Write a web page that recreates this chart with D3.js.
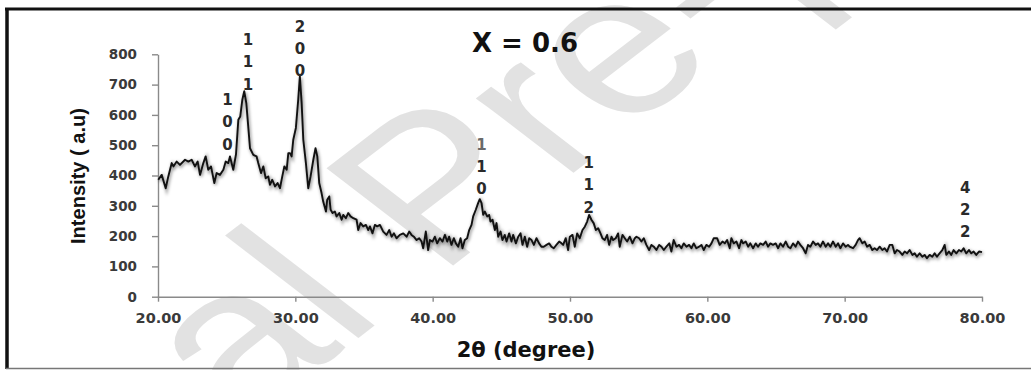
<!DOCTYPE html>
<html>
<head>
<meta charset="utf-8">
<script src="https://cdn.jsdelivr.net/npm/d3@7"></script>
<style>
  html, body { margin: 0; padding: 0; background: #fff; }
  svg { display: block; }
</style>
</head>
<body>
<svg id="chart" width="1031" height="370"></svg>
<script>
// XRD pattern, sample X = 0.6
const twoTheta = [
  20.02, 20.27, 20.56, 20.75, 21.00, 21.12, 21.36, 21.60, 21.97, 22.21,
  22.45, 22.69, 22.89, 23.06, 23.30, 23.47, 23.66, 23.86, 24.10, 24.27,
  24.51, 24.76, 24.93, 25.12, 25.24, 25.48, 25.68, 25.85, 25.99, 26.14,
  26.28, 26.43, 26.57, 26.70, 26.94, 27.18, 27.30, 27.50, 27.67, 27.84,
  28.03, 28.15, 28.32, 28.52, 28.71, 28.88, 29.05, 29.20, 29.37, 29.49,
  29.61, 29.73, 29.85, 30.04, 30.21, 30.33, 30.46, 30.58, 30.77, 30.94,
  31.11, 31.31, 31.47, 31.60, 31.74, 31.91, 32.03, 32.23, 32.32, 32.47,
  32.57, 32.71, 32.88, 33.00, 33.20, 33.37, 33.49, 33.68, 33.85, 34.02,
  34.22, 34.46, 34.58, 34.75, 34.94, 35.14, 35.31, 35.43, 35.62, 35.79,
  35.96, 36.16, 36.40, 36.64, 36.84, 37.01, 37.18, 37.37, 37.61, 37.86,
  38.10, 38.29, 38.46, 38.63, 38.83, 39.02, 39.19, 39.31, 39.50, 39.67,
  39.80, 39.99, 40.16, 40.33, 40.52, 40.72, 40.89, 41.06, 41.20, 41.37,
  41.54, 41.69, 41.86, 42.03, 42.17, 42.34, 42.51, 42.66, 42.83, 42.95,
  43.14, 43.31, 43.43, 43.56, 43.68, 43.80, 43.97, 44.11, 44.21, 44.36,
  44.53, 44.65, 44.77, 44.94, 45.08, 45.25, 45.38, 45.57, 45.74, 45.86,
  46.06, 46.23, 46.40, 46.54, 46.71, 46.88, 47.03, 47.20, 47.37, 47.56,
  47.75, 47.92, 48.09, 48.29, 48.48, 48.65, 48.82, 49.01, 49.21, 49.38,
  49.50, 49.69, 49.86, 49.99, 50.18, 50.35, 50.52, 50.71, 50.91, 51.08,
  51.25, 51.39, 51.56, 51.73, 51.88, 52.05, 52.22, 52.36, 52.53, 52.70,
  52.85, 53.02, 53.14, 53.33, 53.50, 53.62, 53.82, 53.99, 54.16, 54.35,
  54.55, 54.72, 54.84, 55.03, 55.20, 55.37, 55.56, 55.76, 55.93, 56.10,
  56.29, 56.49, 56.66, 56.83, 57.02, 57.23, 57.38, 57.55, 57.75, 57.94,
  58.11, 58.28, 58.48, 58.67, 58.84, 59.01, 59.20, 59.40, 59.57, 59.74,
  59.93, 60.13, 60.30, 60.47, 60.71, 60.90, 61.10, 61.27, 61.44, 61.63,
  61.75, 61.92, 62.12, 62.31, 62.48, 62.60, 62.80, 62.97, 63.13, 63.33,
  63.52, 63.69, 63.86, 64.06, 64.25, 64.42, 64.59, 64.78, 64.98, 65.15,
  65.32, 65.51, 65.71, 65.88, 66.05, 66.24, 66.43, 66.60, 66.77, 66.97,
  67.16, 67.33, 67.50, 67.70, 67.89, 68.06, 68.23, 68.42, 68.62, 68.79,
  68.96, 69.15, 69.35, 69.52, 69.69, 69.88, 70.07, 70.24, 70.36, 70.61,
  70.80, 70.97, 71.09, 71.29, 71.46, 71.63, 71.82, 72.01, 72.18, 72.35,
  72.55, 72.74, 72.91, 73.08, 73.28, 73.47, 73.64, 73.81, 74.00, 74.20,
  74.37, 74.54, 74.73, 74.93, 75.10, 75.26, 75.46, 75.65, 75.82, 75.99,
  76.19, 76.38, 76.55, 76.72, 76.91, 77.11, 77.28, 77.40, 77.59, 77.76,
  77.93, 78.13, 78.32, 78.49, 78.66, 78.85, 79.05, 79.22, 79.39, 79.58,
  79.78, 80.00
];
const intensity = [
  386, 402, 358, 397, 441, 430, 446, 435, 452, 446,
  452, 430, 446, 402, 441, 463, 419, 430, 375, 408,
  402, 419, 446, 441, 463, 419, 470, 584, 595, 650,
  678, 639, 562, 490, 468, 463, 441, 408, 430, 391,
  397, 369, 386, 364, 375, 358, 397, 430, 419, 474,
  474, 463, 518, 557, 650, 727, 639, 518, 441, 358,
  397, 452, 490, 463, 375, 342, 314, 281, 320, 331,
  287, 276, 281, 265, 276, 254, 270, 259, 276, 265,
  259, 254, 220, 243, 232, 237, 220, 232, 209, 237,
  232, 237, 215, 204, 220, 198, 209, 193, 204, 209,
  198, 215, 204, 198, 187, 193, 182, 160, 215, 154,
  187, 182, 198, 176, 193, 182, 204, 182, 198, 171,
  193, 176, 165, 193, 160, 187, 193, 220, 237, 265,
  287, 309, 322, 309, 270, 281, 265, 270, 248, 254,
  220, 243, 198, 215, 187, 204, 182, 209, 182, 204,
  176, 198, 209, 171, 198, 165, 193, 187, 171, 193,
  176, 165, 165, 171, 176, 165, 160, 171, 182, 176,
  171, 193, 154, 198, 204, 165, 209, 193, 220, 231,
  248, 270, 254, 242, 220, 226, 209, 193, 187, 204,
  171, 198, 187, 193, 209, 165, 204, 193, 182, 198,
  176, 193, 198, 193, 182, 193, 171, 154, 171, 165,
  154, 171, 165, 154, 165, 176, 149, 187, 165, 171,
  160, 176, 165, 171, 160, 176, 160, 165, 171, 154,
  171, 165, 176, 193, 193, 171, 182, 176, 187, 160,
  193, 176, 182, 160, 187, 176, 182, 165, 176, 160,
  176, 165, 176, 171, 182, 165, 176, 171, 176, 160,
  176, 165, 182, 165, 160, 176, 165, 182, 171, 160,
  143, 171, 165, 182, 171, 176, 165, 182, 165, 176,
  165, 182, 165, 176, 160, 176, 165, 171, 165, 160,
  171, 187, 193, 176, 182, 165, 171, 154, 160, 154,
  165, 154, 160, 149, 171, 171, 143, 154, 149, 138,
  149, 143, 154, 138, 143, 132, 143, 132, 138, 127,
  138, 132, 143, 132, 143, 154, 171, 138, 149, 138,
  154, 143, 154, 149, 160, 143, 154, 143, 149, 138,
  149, 147
];

// Miller indices written vertically above the reflections;
// labelLevel is the intensity level of the first digit's baseline
const peakAngles = [25.06, 26.55, 30.33, 43.56, 51.37, 78.78];
const peakIndices = ["100", "111", "200", "110", "112", "422"];
const labelLevel = [633, 831, 874, 485, 425, 343];

const xTicks = [20, 30, 40, 50, 60, 70, 80];
const yTicks = [0, 100, 200, 300, 400, 500, 600, 700, 800];

const chartTitle = "X = 0.6";
const xTitle = "2\u03b8 (degree)";
const yTitle = "Intensity ( a.u)";
const watermark = "Journal Pre-proof";

const svg = d3.select("#chart");
const W = 1031, H = 370;

const x = d3.scaleLinear().domain([20, 80]).range([158, 982]);
const y = d3.scaleLinear().domain([0, 800]).range([296.7, 54.3]);

svg.append("rect").attr("width", W).attr("height", H).attr("fill", "#fff");

// faint diagonal watermark behind everything (page was stretched sideways)
svg.append("g").attr("transform", "translate(-216,780) scale(1.3,1) rotate(-45)")
  .append("text")
  .attr("font-family", "Liberation Sans, Arial, sans-serif")
  .attr("font-size", 200)
  .attr("fill", "#e2e2e2")
  .text(watermark);

// frame
svg.append("line").attr("x1", 5).attr("x2", W).attr("y1", 9).attr("y2", 9)
  .attr("stroke", "#111").attr("stroke-width", 3);
svg.append("line").attr("x1", 7).attr("x2", 7).attr("y1", 8).attr("y2", 369)
  .attr("stroke", "#111").attr("stroke-width", 3.5);
svg.append("line").attr("x1", 6).attr("x2", W).attr("y1", 368.5).attr("y2", 368.5)
  .attr("stroke", "#777").attr("stroke-width", 1.5);

// axes
const tickFont = "DejaVu Sans, Verdana, sans-serif";
const yAxis = svg.append("g").attr("transform", `translate(${x(20)},0)`)
  .call(d3.axisLeft(y).tickValues(yTicks).tickSizeInner(6).tickSizeOuter(0).tickPadding(15)
    .tickFormat(d3.format("d")));
const xAxis = svg.append("g").attr("transform", `translate(0,${y(0)})`)
  .call(d3.axisBottom(x).tickValues(xTicks).tickSizeInner(5).tickSizeOuter(0).tickPadding(11)
    .tickFormat(d3.format(".2f")));
[yAxis, xAxis].forEach(g => {
  g.select(".domain").attr("stroke", "#8a8a8a").attr("stroke-width", 1.4);
  g.selectAll(".tick line").attr("stroke", "#8a8a8a").attr("stroke-width", 1.4);
  g.selectAll(".tick text").attr("font-family", tickFont).attr("font-weight", "bold")
    .attr("fill", "#3a3a3a");
});
yAxis.selectAll(".tick text").attr("font-size", 13.5);
xAxis.selectAll(".tick text").attr("font-size", 14.5);

// soft shadow under the trace
const defs = svg.append("defs");
const f = defs.append("filter").attr("id", "soft").attr("x", "-5%").attr("y", "-20%")
  .attr("width", "110%").attr("height", "140%");
f.append("feGaussianBlur").attr("stdDeviation", 1.6);

const pts = twoTheta.map((t, i) => [t, intensity[i]]);
const line = d3.line().x(d => x(d[0])).y(d => y(d[1]));

svg.append("path").datum(pts).attr("d", line)
  .attr("fill", "none").attr("stroke", "#000").attr("stroke-opacity", 0.35)
  .attr("stroke-width", 3).attr("transform", "translate(1,1.5)")
  .attr("filter", "url(#soft)");
svg.append("path").datum(pts).attr("d", line)
  .attr("fill", "none").attr("stroke", "#111").attr("stroke-width", 1.9)
  .attr("stroke-linejoin", "round");

// Miller index labels, one digit per row
const labelGap = 22.3;
peakIndices.forEach((idx, i) => {
  const cx = x(peakAngles[i]);
  const base = y(labelLevel[i]);
  idx.split("").forEach((ch, k) => {
    svg.append("text")
      .attr("x", cx).attr("y", base + k * labelGap)
      .attr("text-anchor", "middle")
      .attr("font-family", tickFont).attr("font-weight", "bold")
      .attr("font-size", 15)
      .attr("fill", (i === 3 && k === 0) ? "#6a6a6a" : "#2a2a2a")
      .text(ch);
  });
});

// titles
svg.append("text").attr("x", 525).attr("y", 51.5).attr("text-anchor", "middle")
  .attr("font-family", tickFont).attr("font-weight", "bold").attr("font-size", 26)
  .attr("fill", "#111").text(chartTitle);

svg.append("text").attr("x", 526).attr("y", 356.5).attr("text-anchor", "middle")
  .attr("font-family", tickFont).attr("font-weight", "bold").attr("font-size", 21)
  .attr("fill", "#111").text(xTitle);

svg.append("text")
  .attr("transform", "translate(85,176) rotate(-90)")
  .attr("text-anchor", "middle")
  .attr("font-family", "Liberation Sans Narrow, Liberation Sans, Arial, sans-serif")
  .attr("font-weight", "bold").attr("font-size", 20)
  .attr("textLength", 136).attr("lengthAdjust", "spacingAndGlyphs")
  .attr("fill", "#111").text(yTitle);
</script>
</body>
</html>
